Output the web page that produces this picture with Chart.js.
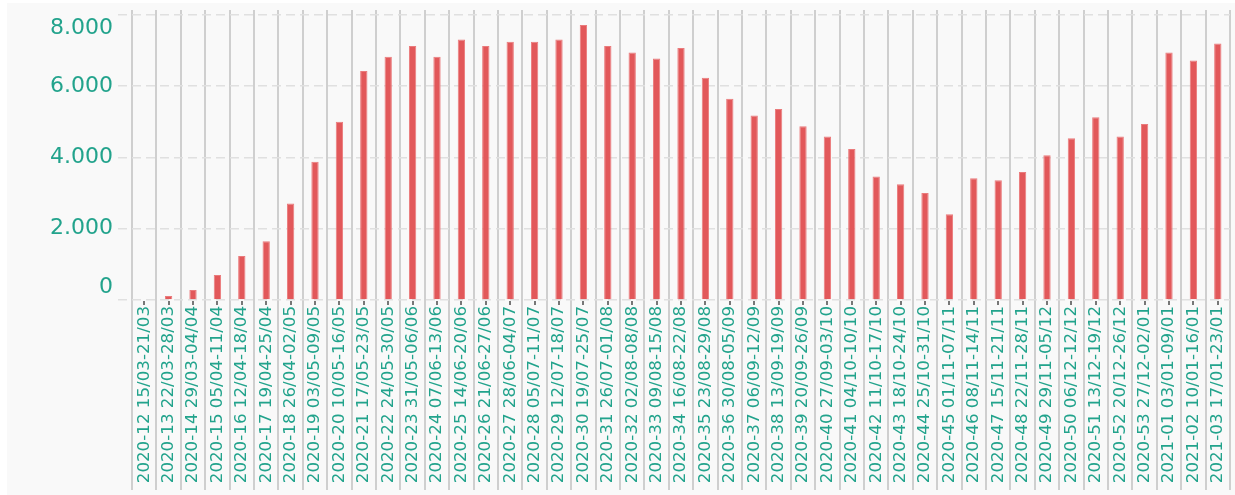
<!DOCTYPE html>
<html>
<head>
<meta charset="utf-8">
<script src="https://cdn.jsdelivr.net/npm/chart.js@4"></script>
<style>
  html, body { margin: 0; padding: 0; background: #fff; }
  #wrap { position: absolute; left: 7px; top: 3px; width: 1228px; height: 492px; background: #f9f9f9; }
</style>
</head>
<body>
<div id="wrap"><canvas id="chart" width="1228" height="492"></canvas></div>
<script>
// weekly categories (ISO week + date range)
const weeks = [
  '2020-12 15/03-21/03', '2020-13 22/03-28/03', '2020-14 29/03-04/04', '2020-15 05/04-11/04',
  '2020-16 12/04-18/04', '2020-17 19/04-25/04', '2020-18 26/04-02/05', '2020-19 03/05-09/05',
  '2020-20 10/05-16/05', '2020-21 17/05-23/05', '2020-22 24/05-30/05', '2020-23 31/05-06/06',
  '2020-24 07/06-13/06', '2020-25 14/06-20/06', '2020-26 21/06-27/06', '2020-27 28/06-04/07',
  '2020-28 05/07-11/07', '2020-29 12/07-18/07', '2020-30 19/07-25/07', '2020-31 26/07-01/08',
  '2020-32 02/08-08/08', '2020-33 09/08-15/08', '2020-34 16/08-22/08', '2020-35 23/08-29/08',
  '2020-36 30/08-05/09', '2020-37 06/09-12/09', '2020-38 13/09-19/09', '2020-39 20/09-26/09',
  '2020-40 27/09-03/10', '2020-41 04/10-10/10', '2020-42 11/10-17/10', '2020-43 18/10-24/10',
  '2020-44 25/10-31/10', '2020-45 01/11-07/11', '2020-46 08/11-14/11', '2020-47 15/11-21/11',
  '2020-48 22/11-28/11', '2020-49 29/11-05/12', '2020-50 06/12-12/12', '2020-51 13/12-19/12',
  '2020-52 20/12-26/12', '2020-53 27/12-02/01', '2021-01 03/01-09/01', '2021-02 10/01-16/01',
  '2021-03 17/01-23/01'
];

const values = [
  0, 110, 280, 700, 1235, 1650, 2710, 3880, 5000, 6430, 6830, 7130,
  6830, 7310, 7130, 7250, 7250, 7310, 7720, 7130, 6950, 6780, 7070, 6240,
  5650, 5180, 5360, 4880, 4590, 4240, 3470, 3250, 3000, 2410, 3420, 3360,
  3590, 4060, 4540, 5130, 4590, 4940, 6950, 6720, 7200
];

const yTicks      = [0, 2000, 4000, 6000, 8000];
const yTickLabels = ['0', '2.000', '4.000', '6.000', '8.000'];

const teal = '#22a38c';

// little dark marks under every bar, at the category centre
const centreMarks = {
  id: 'centreMarks',
  afterDatasetsDraw(chart) {
    const { ctx, scales: { x, y } } = chart;
    const base = y.getPixelForValue(0);
    ctx.save();
    ctx.strokeStyle = '#777';
    ctx.lineWidth = 2;
    ctx.beginPath();
    weeks.forEach((w, i) => {
      const px = Math.round(x.getPixelForTick(i));
      ctx.moveTo(px, base + 1);
      ctx.lineTo(px, base + 5);
    });
    ctx.stroke();
    ctx.restore();
  }
};

new Chart(document.getElementById('chart'), {
  type: 'bar',
  data: {
    labels: weeks,
    datasets: [{
      data: values,
      backgroundColor: '#e2585a',
      borderColor: '#ea7b7c',
      borderWidth: 1,
      barPercentage: 0.3,
      categoryPercentage: 1
    }]
  },
  options: {
    responsive: false,
    animation: false,
    layout: { padding: { top: 7, right: 5, left: 0, bottom: 0 } },
    plugins: { legend: { display: false }, tooltip: { enabled: false } },
    scales: {
      x: {
        offset: true,
        border: { display: false },
        grid: {
          offset: true,
          color: '#cfcfcf',
          lineWidth: 2,
          tickLength: 190,
          tickColor: '#cfcfcf',
          tickWidth: 2
        },
        ticks: {
          autoSkip: false,
          minRotation: 90,
          maxRotation: 90,
          padding: -184,
          color: teal,
          font: { family: 'DejaVu Sans', size: 16.7 }
        },
        afterFit: s => { s.height = 195; s.paddingLeft = 0; s.paddingRight = 0; }
      },
      y: {
        min: 0,
        max: 8140,
        border: { display: false, dash: [9, 5] },
        afterBuildTicks: s => { s.ticks = yTicks.map(v => ({ value: v })); },
        grid: {
          color: '#e0e0e0',
          lineWidth: 1.5,
          tickLength: 14,
          tickColor: '#e0e0e0',
          tickBorderDash: [9, 5]
        },
        ticks: {
          padding: 5,
          color: teal,
          font: { family: 'DejaVu Sans', size: 22 },
          callback: v => {
            const lbl = yTickLabels[yTicks.indexOf(v)];
            if (v === yTicks[yTicks.length - 1]) return ['', lbl];
            if (v === yTicks[0]) return [lbl, ''];
            return lbl;
          }
        },
        afterFit: s => { s.width = 125; s.paddingTop = 0; s.paddingBottom = 0; }
      }
    }
  },
  plugins: [centreMarks]
});
</script>
</body>
</html>
